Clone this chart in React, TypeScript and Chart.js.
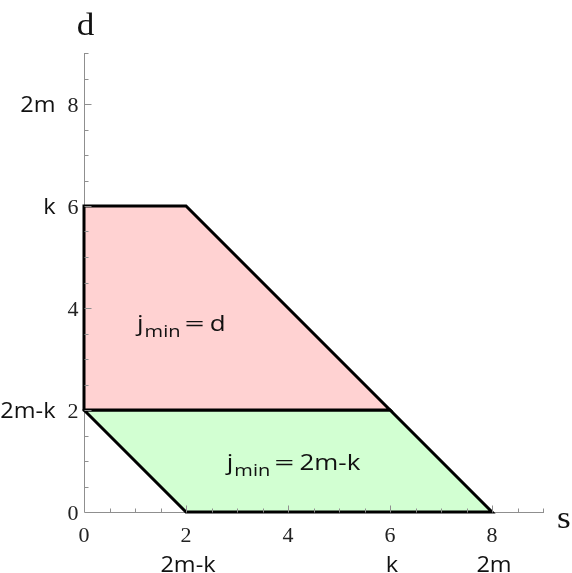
import { useEffect, useRef } from 'react';
import { Chart, registerables } from 'chart.js';
Chart.register(...registerables);

// axis ranges and ticks
const sMax = 9;
const dMax = 9;
const majorTicks = [0, 2, 4, 6, 8];
const minorStep = 0.5;
// symbolic tick labels
const symbolValues = [2, 6, 8];
const symbolLabels = ['2m-k', 'k', '2m'];
// upper region (j_min = d)
const upperS = [0, 0, 2, 6, 0];
const upperD = [2, 6, 6, 2, 2];
// lower region (j_min = 2m-k)
const lowerS = [0, 6, 8, 2, 0];
const lowerD = [2, 2, 0, 0, 2];
// region annotations
const upperText = ['j', 'min', '=', 'd'];
const lowerText = ['j', 'min', '=', '2m-k'];

const SERIF = '"Liberation Serif", "Times New Roman", serif';
const SANS = '"Open Sans", sans-serif';
const AXIS = '#8f8f8f';

// draw text stretched horizontally by sx, returns drawn width
function fillScaled(ctx: CanvasRenderingContext2D, text: string, px: number, py: number, sx: number, align: 'left' | 'center' | 'right') {
  const w = ctx.measureText(text).width * sx;
  let left = px;
  if (align === 'center') left = px - w / 2;
  if (align === 'right') left = px - w;
  ctx.save();
  ctx.textAlign = 'left';
  ctx.translate(left, py);
  ctx.scale(sx, 1);
  ctx.fillText(text, 0, 0);
  ctx.restore();
  return w;
}

function drawLabel(ctx: CanvasRenderingContext2D, px: number, py: number, parts: string[]) {
  ctx.textBaseline = 'alphabetic';
  ctx.fillStyle = '#111';
  const sx = 1.18;
  let cx = px;
  ctx.font = `22px ${SANS}`;
  cx += fillScaled(ctx, parts[0], cx, py, sx, 'left') + 1;
  ctx.font = `17px ${SANS}`;
  cx += fillScaled(ctx, parts[1], cx, py + 6, sx, 'left') + 4;
  ctx.font = `22px ${SANS}`;
  cx += fillScaled(ctx, parts[2], cx, py, 1.6, 'left') + 5;
  fillScaled(ctx, parts[3], cx, py, sx, 'left');
}

const axesPlugin = {
  id: 'axesPlugin',
  beforeDatasetsDraw(chart: any) {
    const { ctx, scales } = chart;
    const x = scales.x, y = scales.y;
    const ox = Math.round(x.getPixelForValue(0)) + 0.5;
    const oy = Math.round(y.getPixelForValue(0)) + 0.5;
    ctx.save();
    ctx.strokeStyle = AXIS;
    ctx.lineWidth = 1;
    ctx.beginPath();
    ctx.moveTo(ox, oy);
    ctx.lineTo(ox, Math.round(y.getPixelForValue(dMax)));
    ctx.moveTo(ox, oy);
    ctx.lineTo(Math.round(x.getPixelForValue(sMax)) + 1, oy);
    ctx.stroke();
    ctx.restore();
  },
  afterDatasetsDraw(chart: any) {
    const { ctx, scales } = chart;
    const x = scales.x, y = scales.y;
    const ox = Math.round(x.getPixelForValue(0)) + 0.5;
    const oy = Math.round(y.getPixelForValue(0)) + 0.5;
    ctx.save();
    ctx.strokeStyle = AXIS;
    ctx.lineWidth = 1;
    ctx.beginPath();
    for (let v = minorStep; v <= sMax + 1e-9; v += minorStep) {
      const len = majorTicks.includes(v) ? 7 : 4;
      const px = Math.round(x.getPixelForValue(v)) + 0.5;
      ctx.moveTo(px, oy);
      ctx.lineTo(px, oy - len);
    }
    for (let v = minorStep; v <= dMax + 1e-9; v += minorStep) {
      const len = majorTicks.includes(v) ? 7 : 4;
      const py = Math.round(y.getPixelForValue(v)) + 0.5;
      ctx.moveTo(ox, py);
      ctx.lineTo(ox + len, py);
    }
    ctx.stroke();

    // numeric tick labels
    ctx.fillStyle = '#222';
    ctx.font = `20px ${SERIF}`;
    ctx.textBaseline = 'alphabetic';
    majorTicks.forEach((v) => {
      fillScaled(ctx, String(v), x.getPixelForValue(v), oy + 29, 1.1, 'center');
    });
    majorTicks.forEach((v) => {
      fillScaled(ctx, String(v), ox - 6, y.getPixelForValue(v) + 8, 1.1, 'right');
    });

    // symbolic labels
    ctx.fillStyle = '#111';
    ctx.font = `21px ${SANS}`;
    symbolValues.forEach((v, i) => {
      fillScaled(ctx, symbolLabels[i], x.getPixelForValue(v) + 2, oy + 59, 1.12, 'center');
    });
    symbolValues.forEach((v, i) => {
      fillScaled(ctx, symbolLabels[i], ox - 29, y.getPixelForValue(v) + 8, 1.12, 'right');
    });

    // axis titles
    ctx.fillStyle = '#111';
    ctx.font = `32px ${SERIF}`;
    fillScaled(ctx, 'd', ox + 1, y.getPixelForValue(dMax) - 18, 1.1, 'center');
    fillScaled(ctx, 's', x.getPixelForValue(sMax) + 14, oy + 15, 1.1, 'left');

    // region annotations
    drawLabel(ctx, x.getPixelForValue(1.04), y.getPixelForValue(3.55), upperText);
    drawLabel(ctx, x.getPixelForValue(2.8), y.getPixelForValue(0.82), lowerText);
    ctx.restore();
  },
};

export default function App() {
  const ref = useRef<HTMLCanvasElement>(null);
  useEffect(() => {
    if (!ref.current) return;
    const toPts = (s: number[], d: number[]) => s.map((v, i) => ({ x: v, y: d[i] }));
    const chart = new Chart(ref.current, {
      type: 'scatter',
      data: {
        datasets: [
          {
            data: toPts(upperS, upperD),
            showLine: true,
            fill: 'shape',
            backgroundColor: 'rgb(255, 210, 210)',
            borderColor: '#000',
            borderWidth: 3,
            pointRadius: 0,
            tension: 0,
            clip: false,
          } as any,
          {
            data: toPts(lowerS, lowerD),
            showLine: true,
            fill: 'shape',
            backgroundColor: 'rgb(210, 255, 210)',
            borderColor: '#000',
            borderWidth: 3,
            pointRadius: 0,
            tension: 0,
            clip: false,
          } as any,
        ],
      },
      options: {
        responsive: false,
        animation: false,
        layout: { padding: { left: 84, right: 29, top: 53, bottom: 61 } },
        elements: { line: { borderJoinStyle: 'miter', borderCapStyle: 'round' } },
        scales: {
          x: { type: 'linear', min: 0, max: sMax, display: false },
          y: { type: 'linear', min: 0, max: dMax, display: false },
        },
        plugins: { legend: { display: false }, tooltip: { enabled: false } },
      },
      plugins: [axesPlugin],
    });
    return () => chart.destroy();
  }, []);
  return (
    <div style={{ position: 'fixed', left: 0, top: 0, width: 572, height: 573, background: '#fff' }}>
      <canvas ref={ref} width={572} height={573} />
    </div>
  );
}
